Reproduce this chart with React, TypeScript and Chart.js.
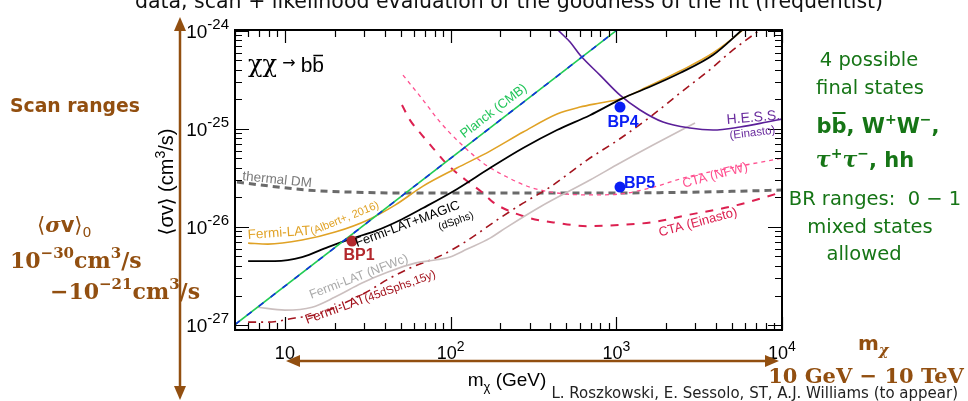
import { useEffect, useRef } from "react";
import { Chart, registerables } from "chart.js";

Chart.register(...registerables);

const W = 968;
const H = 401;

// Axis ranges: dark-matter mass (GeV) and annihilation cross section (cm^3/s)
const M_MIN = 5;
const M_MAX = 1e4;
const SV_MIN = 8.9e-28;
const SV_MAX = 1.02e-24;

// Planck (CMB)
const planckMass = [5, 1100];
const planckSv = [1.01e-27, 1.14e-24];

// Fermi-LAT + MAGIC (dSphs)
const magicMass = [6.0, 8.7, 12.7, 18.2, 24.7, 35, 50.9, 68.2, 109, 173, 274, 439, 694, 1098, 1532, 2424, 3834, 5737, 8590];
const magicSv = [4.49e-27, 4.49e-27, 4.93e-27, 6.24e-27, 7.53e-27, 9.08e-27, 1.2e-26, 1.56e-26, 2.43e-26, 3.99e-26, 6.38e-26, 9.74e-26, 1.38e-25, 2.06e-25, 2.61e-25, 3.72e-25, 5.67e-25, 1.02e-24, 1.83e-24];

// Fermi-LAT (Albert+, 2016)
const albertMass = [6.0, 7.9, 12.7, 20.1, 31.7, 46.2, 68.2, 109, 173, 274, 439, 604, 797, 1053, 1532, 2424, 3834, 5819, 8590];
const albertSv = [6.85e-27, 6.69e-27, 7.35e-27, 8.87e-27, 1.18e-26, 1.67e-26, 2.61e-26, 3.99e-26, 5.94e-26, 9.29e-26, 1.42e-25, 1.67e-25, 1.84e-25, 2.02e-25, 2.67e-25, 3.89e-25, 5.94e-25, 1.02e-24, 1.83e-24];

// Fermi-LAT (NFWc)
const nfwcMass = [6.88, 10.0, 14.6, 20.1, 29.2, 41.9, 61.0, 80.5, 99.2, 126, 173, 219, 346, 694, 1053, 1666, 2987];
const nfwcSv = [1.52e-27, 1.42e-27, 1.52e-27, 1.93e-27, 2.68e-27, 3.47e-27, 4.28e-27, 4.6e-27, 4.93e-27, 5.95e-27, 7.7e-27, 9.98e-27, 1.6e-26, 3.01e-26, 4.49e-26, 6.85e-26, 1.15e-25];

// Fermi-LAT (45 dSphs, 15 y)
const dsph15Mass = [6.0, 7.9, 11.5, 15.8, 21.5, 30.4, 43.1, 56.9, 88.8, 122, 191, 274, 398, 666, 1024, 1596, 2424, 3528, 5064, 7069, 8467];
const dsph15Sv = [1.07e-27, 1.07e-27, 1.18e-27, 1.29e-27, 1.6e-27, 2.12e-27, 3.01e-27, 3.81e-27, 5.17e-27, 7.01e-27, 1.18e-26, 1.75e-26, 2.55e-26, 4.81e-26, 7.7e-26, 1.32e-25, 2.32e-25, 3.8e-25, 6.38e-25, 9.73e-25, 1.23e-24];

// thermal relic cross section
const thermalMass = [5.14, 8.13, 13.6, 24.7, 49.5, 199, 797, 3201, 10000];
const thermalSv = [2.87e-26, 2.61e-26, 2.38e-26, 2.27e-26, 2.22e-26, 2.22e-26, 2.22e-26, 2.27e-26, 2.38e-26];

// H.E.S.S. (Einasto)
const hessMass = [387, 445, 526, 604, 797, 1053, 1391, 1914, 2786, 3834, 5580, 8122, 10000];
const hessSv = [1.35e-24, 1.02e-24, 7.69e-25, 5.67e-25, 3.54e-25, 2.21e-25, 1.56e-25, 1.175e-25, 1.02e-25, 9.74e-26, 1.045e-25, 1.175e-25, 1.26e-25];

// CTA projection (NFW)
const ctaNfwMass = [51.6, 68.2, 86.4, 114, 157, 219, 301, 439, 694, 1053, 1596, 2672, 4227, 10000];
const ctaNfwSv = [3.54e-25, 1.97e-25, 1.175e-25, 7.18e-26, 4.49e-26, 3.23e-26, 2.55e-26, 2.22e-26, 2.12e-26, 2.17e-26, 2.49e-26, 3.23e-26, 3.81e-26, 5.04e-26];

// CTA projection (Einasto)
const ctaEinMass = [50.9, 56.9, 67.2, 78.3, 92.5, 109, 131, 157, 180, 219, 301, 439, 666, 1053, 1666, 2672, 5353, 10000];
const ctaEinSv = [1.75e-25, 1.23e-25, 8.66e-26, 6.38e-26, 4.59e-26, 3.55e-26, 2.8e-26, 2.22e-26, 1.79e-26, 1.49e-26, 1.23e-26, 1.1e-26, 1.02e-26, 1.05e-26, 1.12e-26, 1.32e-26, 1.67e-26, 2.27e-26];

// benchmark points
const bpNames = ["BP1", "BP4", "BP5"];
const bpMass = [25.4, 1053, 1053];
const bpSv = [7.18e-27, 1.67e-25, 2.55e-26];
const bpColors = ["#b3282d", "#0a1ef5", "#0a1ef5"];

// axis labels: powers of ten
const xTickExp = [1, 2, 3, 4];
const yTickExp = [-24, -25, -26, -27];

const BROWN = "#924f10";
const GREEN = "#167516";
const SANS = "'Liberation Sans', Arial, 'DejaVu Sans', sans-serif";
const SLIDE = "'DejaVu Sans', sans-serif";
const SERIF = "'DejaVu Serif', serif";

type Run = { t: string; f: string; dy?: number };

function drawRuns(ctx: CanvasRenderingContext2D, runs: Run[], x: number, y: number, align: "left" | "center" | "right" = "left") {
  const ws: number[] = [];
  let w = 0;
  for (const r of runs) {
    ctx.font = r.f;
    const m = ctx.measureText(r.t).width;
    ws.push(m);
    w += m;
  }
  let cx = align === "center" ? x - w / 2 : align === "right" ? x - w : x;
  const xs: number[] = [];
  runs.forEach((r, i) => {
    ctx.font = r.f;
    xs.push(cx);
    ctx.fillText(r.t, cx, y + (r.dy || 0));
    cx += ws[i];
  });
  return { xs, ws, w };
}

function rotated(ctx: CanvasRenderingContext2D, x: number, y: number, deg: number, color: string, runs: Run[], align: "left" | "center" = "left") {
  ctx.save();
  ctx.translate(x, y);
  ctx.rotate((deg * Math.PI) / 180);
  ctx.fillStyle = color;
  drawRuns(ctx, runs, 0, 0, align);
  ctx.restore();
}

function arrowHead(ctx: CanvasRenderingContext2D, tx: number, ty: number, dx: number, dy: number, len: number, half: number) {
  // tip at (tx,ty), pointing along (dx,dy)
  const bx = tx - dx * len;
  const by = ty - dy * len;
  ctx.beginPath();
  ctx.moveTo(tx, ty);
  ctx.lineTo(bx - dy * half, by + dx * half);
  ctx.lineTo(bx + dy * half, by - dx * half);
  ctx.closePath();
  ctx.fill();
}

const overlay = {
  id: "overlay",
  afterDraw(chart: any) {
    const ctx: CanvasRenderingContext2D = chart.ctx;
    const xs = chart.scales.x;
    const ys = chart.scales.y;
    const a = chart.chartArea;
    ctx.save();
    ctx.textAlign = "left";
    ctx.textBaseline = "alphabetic";

    // frame with inward ticks on all sides
    ctx.strokeStyle = "#000";
    ctx.lineWidth = 1.2;
    ctx.beginPath();
    for (let e = 0; e <= 4; e++) {
      for (let k = 1; k <= 9; k++) {
        const v = k * Math.pow(10, e);
        if (v < M_MIN || v > M_MAX) continue;
        const px = Math.round(xs.getPixelForValue(v)) + 0.5;
        const len = k === 1 ? 13 : 7;
        ctx.moveTo(px, a.bottom);
        ctx.lineTo(px, a.bottom - len);
        ctx.moveTo(px, a.top);
        ctx.lineTo(px, a.top + len);
      }
    }
    for (let e = -28; e <= -24; e++) {
      for (let k = 1; k <= 9; k++) {
        const v = k * Math.pow(10, e);
        if (v < SV_MIN || v > SV_MAX) continue;
        const py = Math.round(ys.getPixelForValue(v)) + 0.5;
        const len = k === 1 ? 14 : 7;
        ctx.moveTo(a.left, py);
        ctx.lineTo(a.left + len, py);
        ctx.moveTo(a.right, py);
        ctx.lineTo(a.right - len, py);
      }
    }
    ctx.stroke();
    ctx.lineWidth = 2;
    ctx.strokeRect(a.left, a.top, a.right - a.left, a.bottom - a.top);

    // tick labels
    ctx.fillStyle = "#000";
    for (const e of xTickExp) {
      const px = xs.getPixelForValue(Math.pow(10, e));
      const runs: Run[] = e === 1 ? [{ t: "10", f: `18px ${SANS}` }] : [{ t: "10", f: `18px ${SANS}` }, { t: String(e), f: `14px ${SANS}`, dy: -8 }];
      drawRuns(ctx, runs, px, 359, "center");
    }
    for (const e of yTickExp) {
      const py = ys.getPixelForValue(Math.pow(10, e));
      drawRuns(ctx, [{ t: "10", f: `19px ${SANS}` }, { t: String(e), f: `15px ${SANS}`, dy: -9 }], 229, py + 7, "right");
    }

    // axis titles
    drawRuns(ctx, [{ t: "m", f: `19px ${SANS}` }, { t: "χ", f: `13px ${SANS}`, dy: 5 }, { t: " (GeV)", f: `19px ${SANS}` }], 507, 386, "center");
    rotated(ctx, 173, 182, -90, "#000", [
      { t: "⟨σv⟩ (cm", f: `20px ${SANS}` },
      { t: "3", f: `14px ${SANS}`, dy: -8 },
      { t: "/s)", f: `20px ${SANS}` },
    ], "center");

    // process
    ctx.fillStyle = "#000";
    const pr = drawRuns(ctx, [
      { t: "χχ", f: `24px ${SERIF}` },
      { t: " → ", f: `16px 'DejaVu Sans', sans-serif`, dy: -4 },
      { t: "b", f: `21px ${SANS}` },
      { t: "b", f: `21px ${SANS}` },
    ], 248, 72);
    ctx.strokeStyle = "#000";
    ctx.lineWidth = 1.5;
    ctx.beginPath();
    ctx.moveTo(pr.xs[3] + 1, 55.5);
    ctx.lineTo(pr.xs[3] + pr.ws[3] - 1, 55.5);
    ctx.stroke();

    // curve labels
    rotated(ctx, 496, 114, -37.6, "#22c55a", [{ t: "Planck (CMB)", f: `13px ${SANS}` }], "center");
    rotated(ctx, 248, 239, -4, "#e0a225", [{ t: "Fermi-LAT", f: `13.5px ${SANS}` }]);
    rotated(ctx, 312, 235, -22, "#e0a225", [{ t: "(Albert+, 2016)", f: `11px ${SANS}` }]);
    rotated(ctx, 357, 247, -20.5, "#000", [{ t: "Fermi-LAT+MAGIC", f: `13px ${SANS}` }]);
    rotated(ctx, 457, 224, -20, "#000", [{ t: "(dSphs)", f: `10.5px ${SANS}` }], "center");
    rotated(ctx, 360, 280, -21, "#a9a9a9", [{ t: "Fermi-LAT (NFWc)", f: `12.5px ${SANS}` }], "center");
    rotated(ctx, 307, 324, -20, "#a3141e", [
      { t: "Fermi-LAT", f: `13.5px ${SANS}` },
      { t: "(45dSphs,15y)", f: `11.5px ${SANS}` },
    ]);
    rotated(ctx, 242, 180, 6, "#7a7a7a", [{ t: "thermal DM", f: `13.5px ${SANS}` }]);
    rotated(ctx, 727, 124, -5, "#6a2c9e", [{ t: "H.E.S.S.", f: `14px ${SANS}` }]);
    rotated(ctx, 730, 139, -7, "#6a2c9e", [{ t: "(Einasto)", f: `11.5px ${SANS}` }]);
    rotated(ctx, 716, 179, -15, "#ff4f8f", [{ t: "CTA (NFW)", f: `13px ${SANS}` }], "center");
    rotated(ctx, 699, 226, -15, "#dc2050", [{ t: "CTA (Einasto)", f: `13px ${SANS}` }], "center");

    // benchmark point names
    ctx.font = `bold 16px ${SANS}`;
    ctx.fillStyle = bpColors[0];
    ctx.textAlign = "center";
    ctx.fillText(bpNames[0], 359, 260);
    ctx.fillStyle = bpColors[1];
    ctx.fillText(bpNames[1], 623, 127);
    ctx.textAlign = "left";
    ctx.fillStyle = bpColors[2];
    ctx.fillText(bpNames[2], 624, 188);

    // slide text: title line
    ctx.fillStyle = "#111";
    drawRuns(ctx, [{ t: "data, scan + likelihood evaluation of the goodness of the fit (frequentist)", f: `20.5px ${SLIDE}` }], 509, 8, "center");

    // scan ranges (left)
    ctx.fillStyle = BROWN;
    drawRuns(ctx, [{ t: "Scan ranges", f: `bold 18.8px ${SLIDE}` }], 10, 112);
    drawRuns(ctx, [
      { t: "⟨", f: `21px ${SLIDE}` },
      { t: "σ", f: `italic bold 21px ${SERIF}` },
      { t: "v", f: `bold 21px ${SLIDE}` },
      { t: "⟩", f: `21px ${SLIDE}` },
      { t: "0", f: `14px ${SLIDE}`, dy: 5 },
    ], 37, 232);
    drawRuns(ctx, [
      { t: "10", f: `bold 22px ${SERIF}` },
      { t: "−30", f: `bold 15px ${SERIF}`, dy: -10 },
      { t: "cm", f: `bold 22px ${SERIF}` },
      { t: "3", f: `bold 15px ${SERIF}`, dy: -10 },
      { t: "/s", f: `bold 22px ${SERIF}` },
    ], 10, 268);
    drawRuns(ctx, [
      { t: "−10", f: `bold 22px ${SERIF}` },
      { t: "−21", f: `bold 15px ${SERIF}`, dy: -10 },
      { t: "cm", f: `bold 22px ${SERIF}` },
      { t: "3", f: `bold 15px ${SERIF}`, dy: -10 },
      { t: "/s", f: `bold 22px ${SERIF}` },
    ], 50, 299);

    // scan ranges (mass)
    drawRuns(ctx, [
      { t: "m", f: `bold 20px ${SLIDE}` },
      { t: "χ", f: `italic bold 15px ${SERIF}`, dy: 5 },
    ], 858, 350);
    drawRuns(ctx, [{ t: "10 GeV − 10 TeV", f: `bold 21px ${SERIF}` }], 866, 383, "center");

    // arrows
    ctx.strokeStyle = BROWN;
    ctx.fillStyle = BROWN;
    ctx.lineWidth = 2.5;
    ctx.beginPath();
    ctx.moveTo(180, 28);
    ctx.lineTo(180, 390);
    ctx.moveTo(296, 361);
    ctx.lineTo(770, 361);
    ctx.stroke();
    arrowHead(ctx, 180, 17, 0, -1, 14, 6);
    arrowHead(ctx, 180, 400, 0, 1, 14, 6);
    arrowHead(ctx, 286, 361, -1, 0, 14, 6);
    arrowHead(ctx, 779, 361, 1, 0, 14, 6);

    // final states (right)
    ctx.fillStyle = GREEN;
    drawRuns(ctx, [{ t: "4 possible", f: `19.5px ${SLIDE}` }], 869, 66, "center");
    drawRuns(ctx, [{ t: "final states", f: `19.5px ${SLIDE}` }], 870, 94, "center");
    const fs = drawRuns(ctx, [
      { t: "b", f: `bold 21px ${SLIDE}` },
      { t: "b", f: `bold 21px ${SLIDE}` },
      { t: ", W", f: `bold 21px ${SLIDE}` },
      { t: "+", f: `bold 14px ${SLIDE}`, dy: -9 },
      { t: "W", f: `bold 21px ${SLIDE}` },
      { t: "−", f: `bold 14px ${SLIDE}`, dy: -9 },
      { t: ",", f: `bold 21px ${SLIDE}` },
    ], 878, 133, "center");
    ctx.strokeStyle = GREEN;
    ctx.lineWidth = 2;
    ctx.beginPath();
    ctx.moveTo(fs.xs[1] + 1, 113);
    ctx.lineTo(fs.xs[1] + fs.ws[1] - 1, 113);
    ctx.stroke();
    drawRuns(ctx, [
      { t: "τ", f: `italic bold 22px ${SERIF}` },
      { t: "+", f: `bold 14px ${SLIDE}`, dy: -9 },
      { t: "τ", f: `italic bold 22px ${SERIF}` },
      { t: "−", f: `bold 14px ${SLIDE}`, dy: -9 },
      { t: ", hh", f: `bold 21px ${SLIDE}` },
    ], 865, 167, "center");
    drawRuns(ctx, [{ t: "BR ranges:  0 − 1", f: `19.5px ${SLIDE}` }], 875, 205, "center");
    drawRuns(ctx, [{ t: "mixed states", f: `19.5px ${SLIDE}` }], 870, 233, "center");
    drawRuns(ctx, [{ t: "allowed", f: `19.5px ${SLIDE}` }], 864, 260, "center");

    // reference
    ctx.fillStyle = "#222";
    drawRuns(ctx, [{ t: "L. Roszkowski, E. Sessolo, ST, A.J. Williams (to appear)", f: `15px ${SLIDE}` }], 958, 398, "right");

    ctx.restore();
  },
};

const pts = (ms: number[], vs: number[]) => ms.map((m, i) => ({ x: m, y: vs[i] }));

function curve(ms: number[], vs: number[], color: string, width: number, dash: number[] = []) {
  return {
    data: pts(ms, vs),
    borderColor: color,
    borderWidth: width,
    borderDash: dash,
    pointRadius: 0,
    fill: false,
    cubicInterpolationMode: "monotone" as const,
    borderCapStyle: "butt" as const,
  };
}

export default function App() {
  const ref = useRef<HTMLCanvasElement | null>(null);

  useEffect(() => {
    if (!ref.current) return;
    const chart = new Chart(ref.current, {
      type: "line",
      data: {
        datasets: [
          {
            data: pts(bpMass, bpSv),
            showLine: false,
            pointRadius: 5.5,
            pointBorderWidth: 0,
            pointBackgroundColor: bpColors,
            borderColor: "transparent",
          } as any,
          curve(planckMass, planckSv, "#1030e0", 1.6, [6, 9]),
          curve(planckMass, planckSv, "#22cc55", 1.6),
          curve(magicMass, magicSv, "#000000", 1.8),
          curve(albertMass, albertSv, "#e0a225", 1.6),
          curve(hessMass, hessSv, "#5b1f99", 1.6),
          curve(nfwcMass, nfwcSv, "#cbbfbf", 1.6),
          curve(dsph15Mass, dsph15Sv, "#a3141e", 1.6, [8, 5, 2, 5]),
          curve(ctaEinMass, ctaEinSv, "#dc2050", 2, [8, 8]),
          curve(ctaNfwMass, ctaNfwSv, "#ff4f8f", 1.3, [4, 4]),
          curve(thermalMass, thermalSv, "#6a6a6a", 3, [7, 5]),
        ],
      },
      options: {
        responsive: false,
        animation: false,
        devicePixelRatio: 1,
        events: [],
        layout: { padding: { left: 235, top: 30, right: W - 782, bottom: H - 330 } },
        plugins: { legend: { display: false }, tooltip: { enabled: false } },
        scales: {
          x: { type: "logarithmic", min: M_MIN, max: M_MAX, display: false },
          y: { type: "logarithmic", min: SV_MIN, max: SV_MAX, display: false },
        },
      },
      plugins: [overlay],
    });
    return () => chart.destroy();
  }, []);

  return (
    <div style={{ position: "absolute", left: 0, top: 0, width: W, height: H, background: "#fff" }}>
      <canvas ref={ref} width={W} height={H} style={{ display: "block", width: W, height: H }} />
    </div>
  );
}
